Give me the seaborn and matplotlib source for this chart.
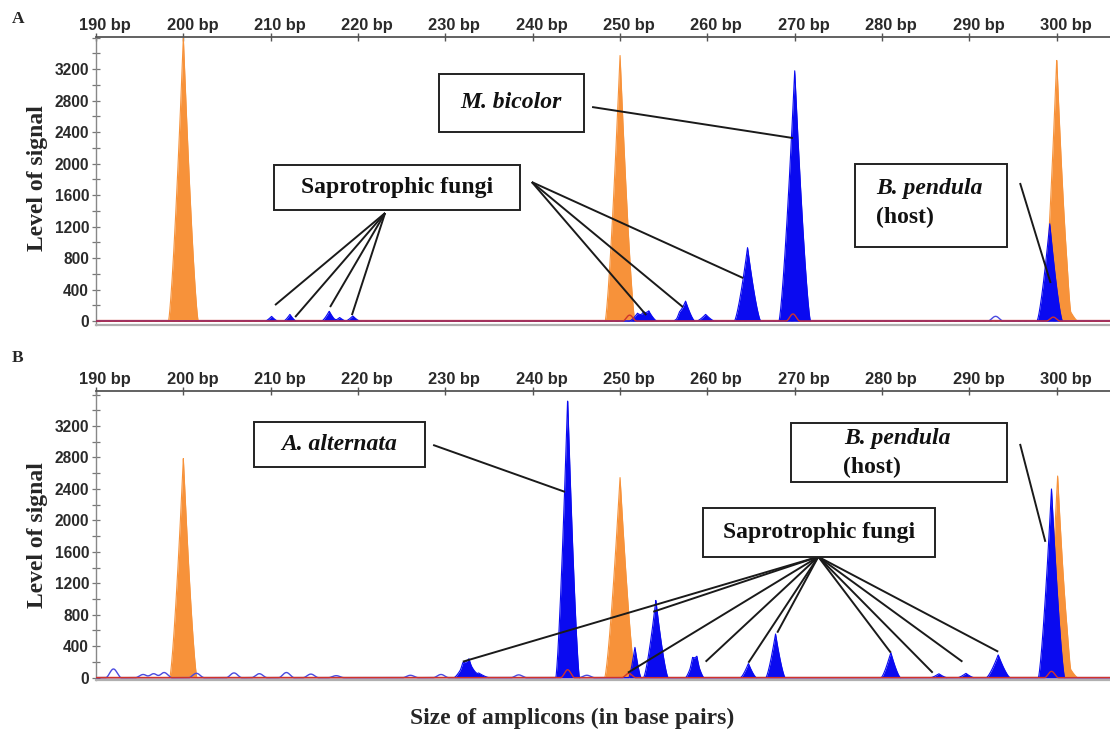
import numpy as np
import pandas as pd
import matplotlib
matplotlib.use("Agg")
import matplotlib.pyplot as plt
import seaborn as sns
from matplotlib.patches import Rectangle
from matplotlib.ticker import MultipleLocator
from matplotlib.transforms import ScaledTranslation

# ---------------- data ----------------
x_ticks = [190, 200, 210, 220, 230, 240, 250, 260, 270, 280, 290, 300]
x_tick_labels = [f"{v} bp" for v in x_ticks]
y_ticks = [0, 400, 800, 1200, 1600, 2000, 2400, 2800, 3200]

# Panel A - size standard (orange, filled): position (bp), height, half base width (bp)
a_orange_bp = [200.0, 250.0, 300.0, 301.2]
a_orange_h = [3600, 3380, 3330, 200]
a_orange_w = [1.7, 1.7, 1.6, 1.2]
# Panel A - fungal / host signal (blue, filled)
a_blue_bp = [210.1, 212.2, 216.7, 217.9, 219.4, 252.0, 252.7, 253.3, 256.8, 257.5, 259.8, 264.6, 270.0, 299.2]
a_blue_h = [60, 85, 125, 45, 65, 100, 80, 125, 60, 255, 85, 935, 3180, 1240]
a_blue_w = [0.7, 0.7, 0.85, 0.7, 0.8, 0.9, 0.7, 0.9, 0.7, 1.05, 1.0, 1.5, 1.8, 1.45]
# Panel A - outline-only traces
a_blueline_bp = [293.0]
a_blueline_h = [60]
a_red_bp = [251.1, 269.8, 299.6]
a_red_h = [75, 90, 50]

# Panel B
b_orange_bp = [200.0, 250.0, 300.1, 301.2]
b_orange_h = [2790, 2550, 2570, 180]
b_orange_w = [1.55, 1.75, 1.5, 1.2]
b_blue_bp = [232.0, 232.7, 233.8, 244.0, 251.7, 254.1, 258.3, 258.8, 264.7, 267.8, 281.0, 286.5, 289.6, 293.3, 299.4]
b_blue_h = [150, 210, 60, 3550, 390, 985, 200, 220, 180, 560, 320, 50, 55, 290, 2400]
b_blue_w = [1.0, 1.0, 1.2, 1.35, 0.7, 1.4, 0.8, 0.8, 0.9, 1.1, 1.1, 0.9, 0.9, 1.35, 1.5]
b_blueline_bp = [192.0, 195.4, 196.6, 197.8, 201.5, 205.8, 208.7, 211.8, 214.6, 217.5, 226.0, 229.5, 238.4, 246.2]
b_blueline_h = [110, 40, 50, 65, 55, 60, 50, 65, 45, 25, 30, 40, 35, 30]
b_red_bp = [244.0, 251.0, 299.4]
b_red_h = [100, 55, 80]

# ---------------- style ----------------
sns.set_theme(style="white")
plt.rcParams["font.family"] = ["Liberation Sans", "DejaVu Sans"]
SERIF = ["Liberation Serif", "DejaVu Serif"]
BLUE = "#0a0af0"
ORANGE = "#f7923a"
RED = "#d0342a"

fig = plt.figure(figsize=(11.10, 7.33), dpi=100)
W, H = 1110, 733


def px_axes(left, top, right, bottom):
    return fig.add_axes([left / W, 1 - bottom / H, (right - left) / W, (bottom - top) / H])


axA = px_axes(96, 37, 1110, 325)
axB = px_axes(96, 391, 1110, 680)

grid = np.linspace(189.5, 307, 6000)


def peaks(bps, hs, ws):
    """Electropherogram peaks: sharp tip, slightly concave flanks."""
    y = np.zeros_like(grid)
    for b, h, w in zip(bps, hs, ws):
        u = np.clip(1 - np.abs(grid - b) / w, 0, None)
        y += h * u ** 1.35
    return y


def bumps(bps, hs, w=0.9):
    """Rounded small outline bumps."""
    y = np.zeros_like(grid)
    for b, h in zip(bps, hs):
        d = np.abs(grid - b)
        y += np.where(d < w, h * 0.5 * (1 + np.cos(np.pi * d / w)), 0)
    return y


def draw_panel(ax, orange, blue, blueline, red, ylim):
    df = pd.DataFrame({"bp": grid, "orange": peaks(*orange), "blue": peaks(*blue),
                       "blueline": bumps(*blueline), "red": bumps(*red, w=0.8)})
    ax.axhline(8, color=RED, lw=1.0, zorder=1, alpha=0.75)
    ax.axhline(4, color="#4a2020", lw=0.7, ls=(0, (3, 3)), zorder=1, alpha=0.8)
    ax.fill_between(df["bp"], 0, df["orange"], color=ORANGE, lw=0, zorder=2)
    sns.lineplot(data=df, x="bp", y="orange", color=ORANGE, lw=0.8, ax=ax, estimator=None, zorder=2)
    sns.lineplot(data=df, x="bp", y="blueline", color="#4a4ae0", lw=1.0, ax=ax, estimator=None, zorder=3)
    ax.fill_between(df["bp"], 0, df["blue"], color=BLUE, lw=0, zorder=4)
    sns.lineplot(data=df, x="bp", y="blue", color=BLUE, lw=0.8, ax=ax, estimator=None, zorder=4)
    sns.lineplot(data=df, x="bp", y="red", color=RED, lw=1.0, ax=ax, estimator=None, zorder=5)

    ax.set_xlim(190, 306.1)
    ax.set_ylim(*ylim)
    ax.xaxis.tick_top()
    ax.set_xticks(x_ticks)
    ax.set_xticklabels(x_tick_labels)
    ax.set_yticks(y_ticks)
    ax.set_yticklabels([str(v) for v in y_ticks])
    ax.yaxis.set_minor_locator(MultipleLocator(200))
    ax.tick_params(axis="x", which="major", top=True, bottom=False, direction="inout", length=6,
                   width=1, color="#555555", pad=0, labelsize=11.8, labelcolor="#2a2a2a")
    ax.tick_params(axis="y", which="both", left=True, direction="inout", length=6, width=0.9,
                   color="#777777", pad=2, labelsize=11.2, labelcolor="#2a2a2a")
    for lab in ax.get_xticklabels() + ax.get_yticklabels():
        lab.set_fontweight("bold")
    ax.set_xlabel("")
    ax.set_ylabel("")
    ax.spines["right"].set_visible(False)
    ax.spines["top"].set_color("#555555")
    ax.spines["top"].set_linewidth(1.3)
    ax.spines["left"].set_color("#888888")
    ax.spines["left"].set_linewidth(1.0)
    ax.spines["bottom"].set_color("#b0b0b0")
    ax.spines["bottom"].set_linewidth(1.6)
    off = ScaledTranslation(9 / 100, 0, fig.dpi_scale_trans)
    for lab in ax.get_xticklabels():
        lab.set_transform(lab.get_transform() + off)


draw_panel(axA, (a_orange_bp, a_orange_h, a_orange_w), (a_blue_bp, a_blue_h, a_blue_w),
           (a_blueline_bp, a_blueline_h), (a_red_bp, a_red_h), (-50, 3607))
draw_panel(axB, (b_orange_bp, b_orange_h, b_orange_w), (b_blue_bp, b_blue_h, b_blue_w),
           (b_blueline_bp, b_blueline_h), (b_red_bp, b_red_h), (-30, 3645))

LINE = dict(color="#1a1a1a", lw=1.4, zorder=8, solid_capstyle="butt")
TXT = dict(family=SERIF, fontsize=17, fontweight="bold", color="#111111", zorder=11)


def box(ax, x0, x1, y0, y1):
    ax.add_patch(Rectangle((x0, y0), x1 - x0, y1 - y0, facecolor="white", edgecolor="#222222",
                           lw=1.4, zorder=10))


def leader(ax, src, targets):
    for t in targets:
        ax.plot([src[0], t[0]], [src[1], t[1]], **LINE)


# ---- Panel A annotations
box(axA, 210.38, 238.53, 1410, 1981)
axA.text(224.45, 1695, "Saprotrophic fungi", ha="center", va="center", **TXT)
leader(axA, (223.1, 1372), [(210.5, 203), (212.8, 51), (216.8, 178), (219.3, 76)])
leader(axA, (239.9, 1765), [(253.0, 76), (257.2, 178), (264.1, 546)])

box(axA, 229.26, 245.86, 2400, 3137)
axA.text(237.56, 2769, "M. bicolor", ha="center", va="center", style="italic", **TXT)
leader(axA, (246.8, 2718), [(269.8, 2324)])

box(axA, 276.88, 294.28, 940, 1994)
axA.text(279.29, 1689, "B. pendula", ha="left", va="center", style="italic", **TXT)
axA.text(279.29, 1321, "(host)", ha="left", va="center", **TXT)
leader(axA, (295.8, 1753), [(299.3, 483)])

# ---- Panel B annotations
box(axB, 208.09, 227.66, 2680, 3251)
axB.text(217.87, 2966, "A. alternata", ha="center", va="center", style="italic", **TXT)
leader(axB, (228.6, 2959), [(243.7, 2362)])

box(axB, 269.56, 294.28, 2489, 3239)
axB.text(275.63, 3035, "B. pendula", ha="left", va="center", style="italic", **TXT)
axB.text(275.51, 2667, "(host)", ha="left", va="center", **TXT)
leader(axB, (295.8, 2972), [(298.7, 1727)])

box(axB, 259.48, 286.04, 1537, 2159)
axB.text(272.76, 1848, "Saprotrophic fungi", ha="center", va="center", **TXT)
leader(axB, (272.7, 1537), [(232.0, 203), (253.8, 838), (250.9, 63), (259.8, 203), (264.7, 190),
                            (268.0, 572), (281.0, 318), (285.8, 63), (289.2, 203), (293.3, 330)])

# ---- figure texts
fig.text(18 / W, 1 - 19 / H, "A", family=SERIF, fontsize=12.5, fontweight="bold", ha="center", va="center")
fig.text(18 / W, 1 - 358 / H, "B", family=SERIF, fontsize=12.5, fontweight="bold", ha="center", va="center")
fig.text(38 / W, 1 - 178 / H, "Level of signal", family=SERIF, fontsize=17, fontweight="bold",
         rotation=90, ha="center", va="center")
fig.text(38 / W, 1 - 535 / H, "Level of signal", family=SERIF, fontsize=17, fontweight="bold",
         rotation=90, ha="center", va="center")
fig.text(572 / W, 1 - 718 / H, "Size of amplicons (in base pairs)", family=SERIF, fontsize=17,
         fontweight="bold", ha="center", va="center")

fig.savefig("out.png", dpi=100)
